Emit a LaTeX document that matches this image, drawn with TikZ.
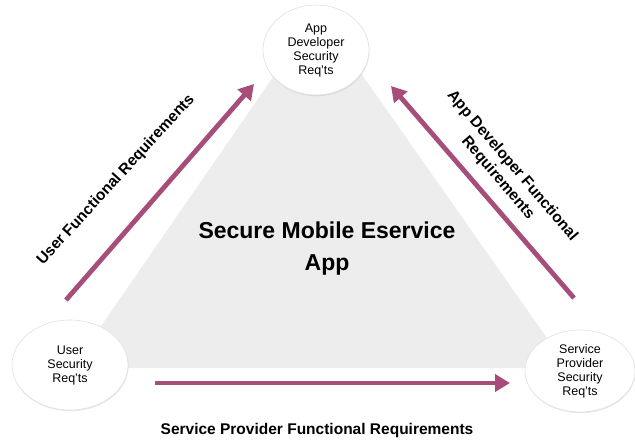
\documentclass[tikz,border=0pt]{standalone}
\usepackage{fontspec}
\setmainfont{Liberation Sans}
\usetikzlibrary{arrows.meta,shapes.geometric,shadows}
\definecolor{arrowc}{HTML}{A64D79}
\definecolor{trigray}{HTML}{EDEDED}
\tikzset{
  reqellipse/.style={ellipse, draw=black!12, fill=white, line width=0.6pt,
    drop shadow={opacity=0.18, shadow xshift=0.5pt, shadow yshift=-1.2pt},
    align=center, font=\fontsize{12.5}{14}\selectfont, inner sep=0pt},
  flowarrow/.style={draw=arrowc, line width=4.8pt,
    -{Triangle[length=15pt,width=17pt]}},
  sidelabel/.style={font=\bfseries\fontsize{15.5}{19}\selectfont, align=center}
}
\begin{document}
\begin{tikzpicture}[x=1pt,y=-1pt]
\useasboundingbox (0,0) rectangle (635,442);
% central triangle
\fill[trigray] (318,12) -- (72,368) -- (568,368) -- cycle;
\node[font=\bfseries\fontsize{23}{32}\selectfont, align=center] (title) at (327,249) {Secure Mobile Eservice\\App};
% ellipses
\node[reqellipse, minimum width=106pt, minimum height=90pt] (top) at (316,50) {App\\Developer\\Security\\Req’ts};
\node[reqellipse, minimum width=116pt, minimum height=90pt] (user) at (70,365) {User\\Security\\Req’ts};
\node[reqellipse, minimum width=110pt, minimum height=82pt] (sp) at (580,371) {Service\\Provider\\Security\\Req’ts};
% arrows
\coordinate (a1s) at (66,300);
\coordinate (a1e) at (254,84);
\coordinate (a2s) at (574,298);
\coordinate (a2e) at (391,86);
\coordinate (a3s) at (155,383);
\coordinate (a3e) at (510,383);
\draw[flowarrow] (a1s) -- (a1e);
\draw[flowarrow] (a2s) -- (a2e);
\draw[flowarrow] (a3s) -- (a3e);
% labels
\node[sidelabel, rotate=47.5] (ul) at (116,180) {User Functional Requirements};
\node[sidelabel, rotate=-49.5] (al) at (505,172) {App Developer Functional\\Requirements};
\node[sidelabel] (sl) at (317,430) {Service Provider Functional Requirements};
\end{tikzpicture}
\end{document}
